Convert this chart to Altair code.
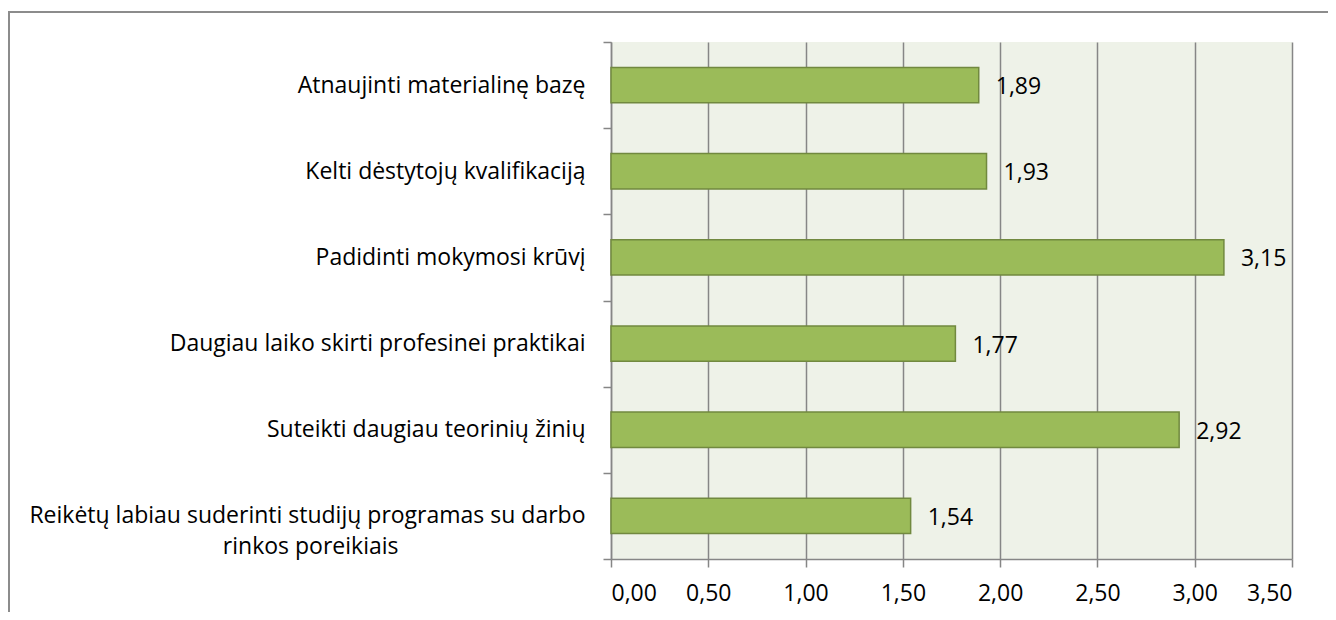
import altair as alt
import pandas as pd

categories = [
    "Atnaujinti materialinę bazę",
    "Kelti dėstytojų kvalifikaciją",
    "Padidinti mokymosi krūvį",
    "Daugiau laiko skirti profesinei praktikai",
    "Suteikti daugiau teorinių žinių",
    "Reikėtų labiau suderinti studijų programas su darbo\nrinkos poreikiais" + "\u2800" * 11,
]
values = [1.89, 1.93, 3.15, 1.77, 2.92, 1.54]
x_ticks = [0, 0.5, 1.0, 1.5, 2.0, 2.5, 3.0, 3.5]

df = pd.DataFrame({"cat": categories, "v": values})

FONT = "Open Sans"
FS = 23
GRID = "#868686"

y_enc = alt.Y(
    "cat:N",
    sort=categories,
    title=None,
    scale=alt.Scale(paddingInner=0, paddingOuter=0),
    axis=alt.Axis(
        tickBand="extent",
        tickSize=8,
        tickColor=GRID,
        tickWidth=1.5,
        domainColor=GRID,
        domainWidth=1.5,
        labelFont=FONT,
        labelFontSize=FS,
        labelColor="black",
        labelPadding=18,
        labelLineHeight=31,
        labelExpr="split(datum.label, '\\n')",
        grid=False,
        labelLimit=0,
    ),
)

x_enc = alt.X(
    "v:Q",
    title=None,
    scale=alt.Scale(domain=[0, 3.5], nice=False),
    axis=alt.Axis(
        values=x_ticks,
        labelExpr="replace(format(datum.value, '.2f'), '.', ',')",
        tickSize=8,
        tickColor=GRID,
        tickWidth=1.5,
        domainColor=GRID,
        domainWidth=1.5,
        grid=True,
        gridColor=GRID,
        gridWidth=1.5,
        labelFont=FONT,
        labelFontSize=FS,
        labelColor="black",
        labelPadding=15,
    ),
)

frame = alt.Chart(pd.DataFrame({"k": [0]})).mark_rect(
    fill=None, stroke="#8c8c8c", strokeWidth=2
).encode(
    x=alt.value(-602), x2=alt.value(760), y=alt.value(-30), y2=alt.value(640)
)

bars = alt.Chart(df).mark_bar(
    height=alt.RelativeBandSize(0.41),
    color="#9BBB59",
    stroke="#71893F",
    strokeWidth=1.5,
).encode(x=x_enc, y=y_enc)

labels = alt.Chart(df).transform_calculate(
    lab="replace(format(datum.v, '.2f'), '.', ',')"
).mark_text(
    align="left", baseline="middle", dx=17, dy=2, font=FONT, fontSize=FS, color="black"
).encode(x="v:Q", y=alt.Y("cat:N", sort=categories), text="lab:N")

chart = alt.layer(frame, bars, labels).properties(
    width=681,
    height=517,
    autosize=alt.AutoSizeParams(type="none"),
    padding={"left": 603, "top": 34, "right": 36, "bottom": 53},
    background="white",
).configure_view(stroke=None, fill="#EEF2E8")

chart.save("out.html", embed_options={"renderer": "svg", "actions": False})
